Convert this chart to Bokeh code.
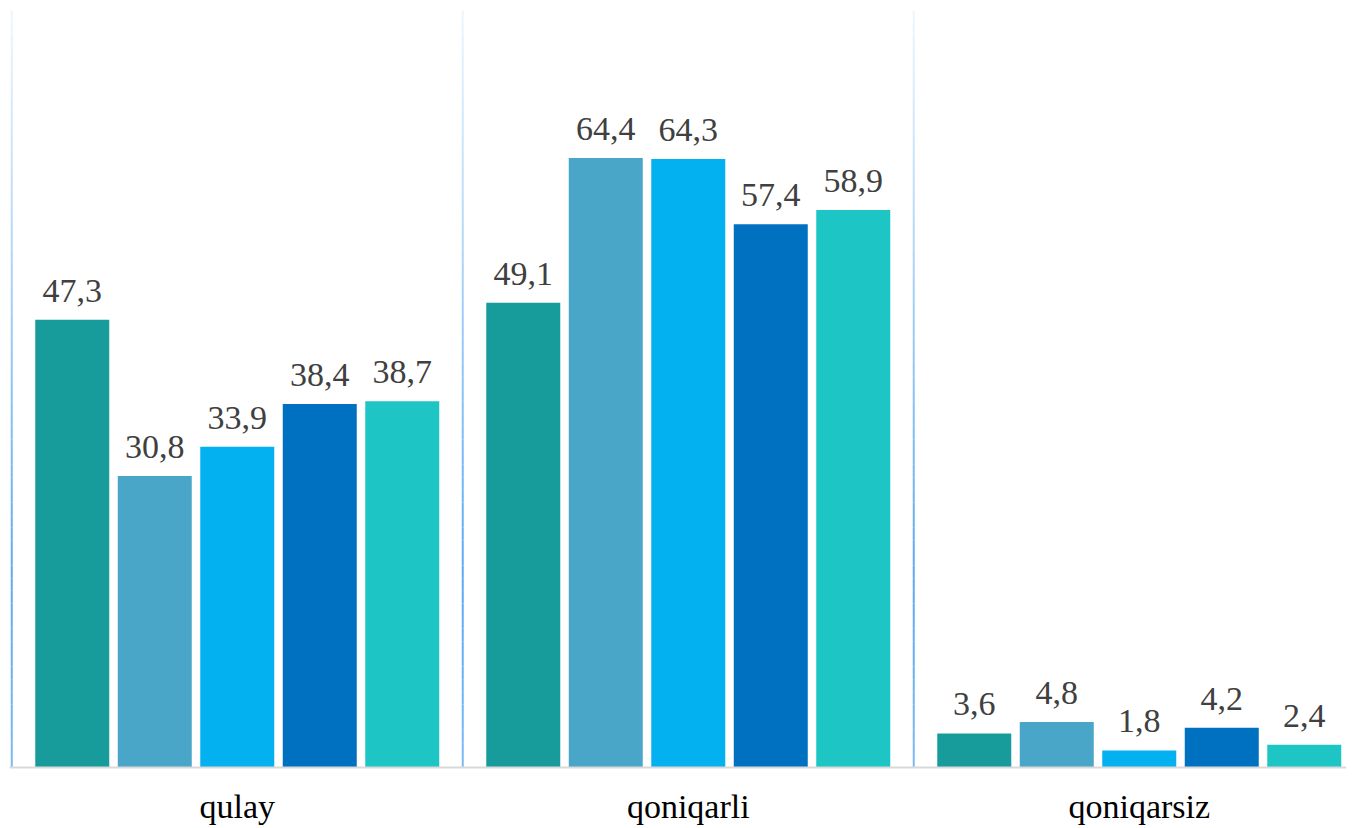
import numpy as np
from bokeh.plotting import figure
from bokeh.models import ColumnDataSource, Range1d, FixedTicker
from bokeh.core.properties import value
from bokeh.embed import file_html
from bokeh.resources import INLINE

categories = ["qulay", "qoniqarli", "qoniqarsiz"]
series_colors = ["#179b9b", "#4aa6c8", "#03b0f0", "#0070c0", "#1dc6c4"]
s1 = [47.3, 49.1, 3.6]
s2 = [30.8, 64.4, 4.8]
s3 = [33.9, 64.3, 1.8]
s4 = [38.4, 57.4, 4.2]
s5 = [38.7, 58.9, 2.4]
series = [s1, s2, s3, s4, s5]

px_per_unit = 451.0
FW, FH = 1337, 759
x0 = -0.005
x1 = x0 + FW / px_per_unit

p = figure(frame_width=FW, frame_height=FH, output_backend="svg", toolbar_location=None,
           x_range=Range1d(x0, x1), y_range=Range1d(0, 80.2),
           min_border_left=9, min_border_right=0, min_border_top=8,
           min_border_bottom=40)
p.outline_line_color = None
p.xgrid.visible = False
p.ygrid.visible = False
p.yaxis.visible = False
p.background_fill_color = "white"

# separators with vertical gradient
n = 60
ys = np.linspace(0, 80.0, n + 1)
mid = (ys[:-1] + ys[1:]) / 2
alpha = np.interp(mid, [0, 20, 80], [0.8, 1.0, 0.1])
for xs in [0, 1, 2, 3]:
    p.segment(x0=[xs] * n, y0=ys[:-1], x1=[xs] * n, y1=ys[1:],
              line_color="#5aa9f2", line_alpha=alpha, line_width=2)

step = 82.5 / px_per_unit
bw = 74 / px_per_unit
for j, (vals, col) in enumerate(zip(series, series_colors)):
    xs = [i + 0.5 + (j - 2) * step for i in range(len(categories))]
    src = ColumnDataSource(dict(x=xs, top=vals,
                                lab=[f"{v:.1f}".replace(".", ",") for v in vals]))
    p.vbar(x="x", top="top", width=bw, bottom=0, source=src,
           fill_color=col, line_color=None)
    p.text(x="x", y="top", text="lab", source=src, text_align="center",
           text_baseline="alphabetic", y_offset=-29,
           text_font=value("Liberation Serif"), text_font_size="34px",
           text_color="#404040")

p.xaxis.ticker = FixedTicker(ticks=[i + 0.5 for i in range(len(categories))])
p.xaxis.major_label_overrides = {i + 0.5: c for i, c in enumerate(categories)}
p.xaxis.axis_line_color = "#d9d9d9"
p.xaxis.axis_line_width = 2
p.xaxis.major_tick_line_color = None
p.xaxis.minor_tick_line_color = None
p.xaxis.major_tick_out = 0
p.xaxis.major_tick_in = 0
p.xaxis.major_label_standoff = 20
p.xaxis.major_label_text_font = "Liberation Serif"
p.xaxis.major_label_text_font_size = "34px"
p.xaxis.major_label_text_color = "black"

open("out.html", "w").write(file_html(p, INLINE))
